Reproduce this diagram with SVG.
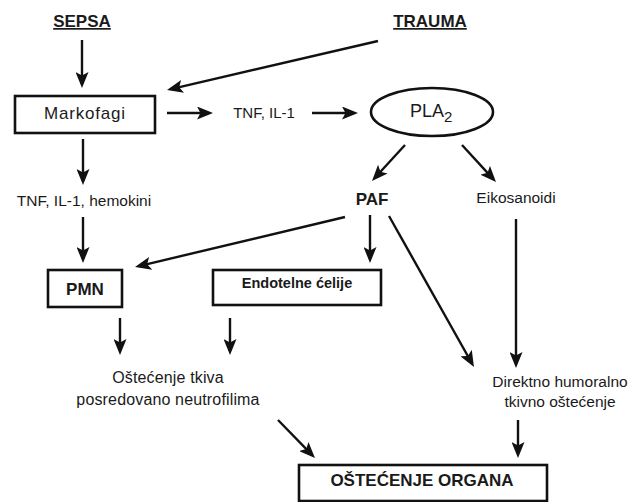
<svg xmlns="http://www.w3.org/2000/svg" width="638" height="502" viewBox="0 0 638 502">
<style>
text{font-family:"Liberation Sans",Arial,sans-serif;fill:#1a1a1a}
.b{font-weight:bold}
.box{fill:#fff;stroke:#111;stroke-width:2.6}
.c line{stroke:#111;stroke-width:2.4;marker-end:url(#ah)}
.m{text-anchor:middle}
</style>
<defs>
<marker id="ah" markerUnits="userSpaceOnUse" markerWidth="17" markerHeight="13" refX="12" refY="6.5" orient="auto">
<path d="M0,0 L16,6.5 L0,13 L3.5,6.5 z" fill="#111"/>
</marker>
</defs>
<rect width="638" height="502" fill="#fff"/>
<g id="sepsa"><text class="b m" x="82" y="27" font-size="17" text-decoration="underline">SEPSA</text></g>
<g id="trauma"><text class="b m" x="430" y="27" font-size="17" text-decoration="underline">TRAUMA</text></g>
<g id="markofagi"><rect class="box" x="15" y="96" width="140" height="37"/><text class="m" x="85" y="119" font-size="17" letter-spacing="0.8">Markofagi</text></g>
<g id="tnf1"><text class="m" x="264" y="118" font-size="15">TNF, IL-1</text></g>
<g id="pla2"><ellipse cx="432" cy="112" rx="61" ry="24" fill="#fff" stroke="#111" stroke-width="2.6"/><text x="410" y="117" font-size="18">PLA<tspan font-size="15" dy="5">2</tspan></text></g>
<g id="tnf2"><text class="m" x="84" y="206" font-size="15.5">TNF, IL-1, hemokini</text></g>
<g id="paf"><text class="b m" x="372" y="205" font-size="17">PAF</text></g>
<g id="eikosanoidi"><text class="m" x="516" y="203" font-size="15.5">Eikosanoidi</text></g>
<g id="pmn"><rect class="box" x="48" y="270" width="74" height="37"/><text class="b m" x="85" y="295" font-size="17">PMN</text></g>
<g id="endotelne"><rect class="box" x="213" y="270" width="168" height="35"/><text class="b m" x="297" y="288" font-size="14.5">Endotelne ćelije</text></g>
<g id="ostecenje-tkiva"><text class="m" x="168" y="383" font-size="16" letter-spacing="0.15">Oštećenje tkiva</text><text class="m" x="168" y="405" font-size="16" letter-spacing="0.15">posredovano neutrofilima</text></g>
<g id="direktno"><text class="m" x="560" y="387" font-size="15.5">Direktno humoralno</text><text class="m" x="560" y="407" font-size="15.5">tkivno oštećenje</text></g>
<g id="organa"><rect class="box" x="299" y="465" width="248" height="36"/><text class="b m" x="422" y="486" font-size="17">OŠTEĆENJE ORGANA</text></g>
<g id="connectors" class="c">
<line x1="82" y1="40" x2="82" y2="84"/>
<line x1="378" y1="41" x2="170.9" y2="89.1"/>
<line x1="167" y1="113" x2="209" y2="113"/>
<line x1="312" y1="113" x2="354" y2="113"/>
<line x1="405" y1="145" x2="374.7" y2="178"/>
<line x1="462" y1="145" x2="493.3" y2="179.1"/>
<line x1="83" y1="139" x2="83" y2="181"/>
<line x1="83" y1="217" x2="83" y2="259"/>
<line x1="345" y1="217" x2="138.9" y2="266.1"/>
<line x1="370" y1="215" x2="370" y2="259"/>
<line x1="389" y1="216" x2="472" y2="363.5"/>
<line x1="516" y1="219" x2="516" y2="364"/>
<line x1="518" y1="420" x2="518" y2="454"/>
<line x1="120" y1="318" x2="120" y2="351"/>
<line x1="230" y1="318" x2="230" y2="351"/>
<line x1="278" y1="420" x2="312.2" y2="455.1"/>
</g>
</svg>
